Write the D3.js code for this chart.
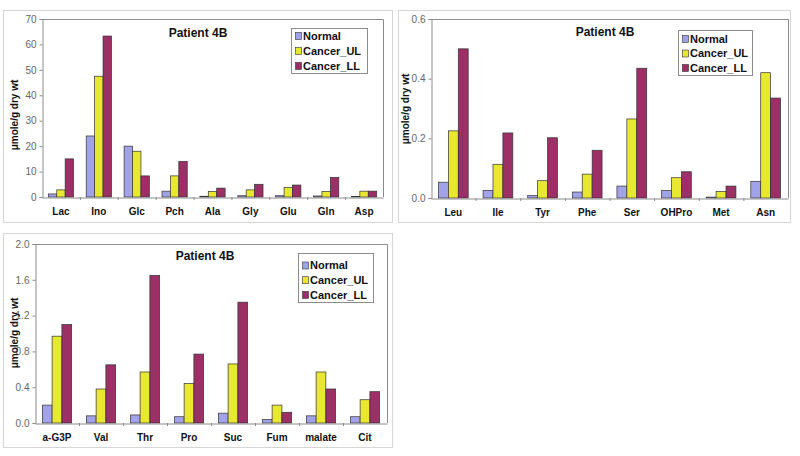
<!DOCTYPE html>
<html><head><meta charset="utf-8">
<script src="https://cdn.jsdelivr.net/npm/d3@7"></script>
<style>
html,body{margin:0;padding:0;background:#fff;}
svg{display:block;font-family:"Liberation Sans",Arial,sans-serif;}
</style></head>
<body>
<svg id="c" width="800" height="456"></svg>
<script>
// ---- data ----
const seriesNames = ["Normal", "Cancer_UL", "Cancer_LL"];
const seriesColors = ["#a2a2e8", "#e8e832", "#9b2f66"];
const title = "Patient 4B";
const yTitle = "\u03bcmole/g dry wt";

const cats1 = ["Lac","Ino","Glc","Pch","Ala","Gly","Glu","Gln","Asp"];
const normal1 = [1.2, 24, 20, 2.3, 0.3, 0.5, 0.5, 0.4, 0.2];
const ul1 = [2.8, 47.5, 18, 8.3, 2.2, 2.8, 3.8, 2.2, 2.3];
const ll1 = [15, 63.3, 8.3, 14, 3.5, 5, 4.7, 7.7, 2.3];
const ticks1 = [0,10,20,30,40,50,60,70];

const cats2 = ["Leu","Ile","Tyr","Phe","Ser","OHPro","Met","Asn"];
const normal2 = [0.053, 0.025, 0.008, 0.02, 0.04, 0.025, 0.003, 0.056];
const ul2 = [0.225, 0.113, 0.058, 0.08, 0.265, 0.068, 0.022, 0.42];
const ll2 = [0.5, 0.218, 0.202, 0.16, 0.435, 0.088, 0.04, 0.335];
const ticks2 = [0, 0.2, 0.4, 0.6];

const cats3 = ["a-G3P","Val","Thr","Pro","Suc","Fum","malate","Cit"];
const normal3 = [0.2, 0.08, 0.09, 0.07, 0.11, 0.04, 0.08, 0.07];
const ul3 = [0.97, 0.38, 0.57, 0.44, 0.66, 0.2, 0.57, 0.26];
const ll3 = [1.1, 0.65, 1.65, 0.77, 1.35, 0.12, 0.38, 0.35];
const ticks3 = [0, 0.4, 0.8, 1.2, 1.6, 2.0];

// ---- layout ----
const svg = d3.select("#c");

function drawPanel(cfg) {
  const {cats, series, ticks, fmt, frame, plot, titlePos, legend, yTitlePos} = cfg;
  const g = svg.append("g");
  g.append("rect").attr("x", frame.x + 0.5).attr("y", frame.y + 0.5)
    .attr("width", frame.w).attr("height", frame.h)
    .attr("fill", "#fff").attr("stroke", "#d6d6d6").attr("stroke-width", 1);

  const x = d3.scaleBand().domain(cats).range([plot.l, plot.r]).paddingInner(0).paddingOuter(0);
  const y = d3.scaleLinear().domain([ticks[0], ticks[ticks.length-1]]).range([plot.b, plot.t]);
  const bw = x.bandwidth() / 4.5;

  // plot border (top & right)
  g.append("path").attr("d", `M${plot.l},${plot.t + 0.5}H${plot.r + 0.5}V${plot.b}`)
    .attr("fill", "none").attr("stroke", "#8c8c8c").attr("stroke-width", 1);

  // bars
  series.forEach((vals, si) => {
    g.append("g").selectAll("rect").data(cats).join("rect")
      .attr("x", c => x(c) + 0.75 * bw + si * bw)
      .attr("y", (c, i) => y(vals[i]))
      .attr("width", bw)
      .attr("height", (c, i) => y(0) - y(vals[i]))
      .attr("fill", seriesColors[si])
      .attr("stroke", "#333").attr("stroke-width", 0.7);
  });

  // y axis
  const ya = d3.axisLeft(y).tickValues(ticks).tickFormat(fmt).tickSize(3).tickPadding(3);
  const yg = g.append("g").attr("transform", `translate(${plot.l + 0.5},0)`).call(ya);
  yg.select(".domain").attr("stroke", "#8c8c8c");
  yg.selectAll(".tick line").attr("stroke", "#8c8c8c");
  yg.selectAll(".tick text").attr("fill", "#666").attr("font-size", 10)
    .attr("font-family", "Liberation Sans, Arial, sans-serif");

  // x axis
  const xa = d3.axisBottom(x).tickSize(0).tickPadding(10);
  const xg = g.append("g").attr("transform", `translate(0,${plot.b + 0.5})`).call(xa);
  xg.select(".domain").attr("stroke", "#8c8c8c");
  xg.selectAll(".tick text").attr("fill", "#111").attr("font-size", 10).attr("font-weight", "bold")
    .attr("font-family", "Liberation Sans, Arial, sans-serif");
  // category separator ticks
  g.append("g").selectAll("line").data(cats.slice(1)).join("line")
    .attr("x1", c => x(c) + 0.5).attr("x2", c => x(c) + 0.5)
    .attr("y1", plot.b).attr("y2", plot.b + 3)
    .attr("stroke", "#8c8c8c");

  // title
  g.append("text").attr("x", titlePos.x).attr("y", titlePos.y).attr("text-anchor", "middle")
    .attr("font-size", 12).attr("font-weight", "bold").attr("fill", "#111").text(title);

  // y title
  g.append("text").attr("transform", `translate(${yTitlePos.x},${yTitlePos.y}) rotate(-90)`)
    .attr("text-anchor", "middle").attr("dy", "0.35em")
    .attr("font-size", 10).attr("font-weight", "bold").attr("fill", "#111").text(yTitle);

  // legend
  const lg = g.append("g").attr("transform", `translate(${legend.x},${legend.y})`);
  lg.append("rect").attr("x", 0.5).attr("y", 0.5).attr("width", legend.w).attr("height", legend.h)
    .attr("fill", "#fff").attr("stroke", "#8c8c8c");
  seriesNames.forEach((n, i) => {
    const cy = legend.first + i * legend.step;
    lg.append("rect").attr("x", 4.5).attr("y", cy - 3.5).attr("width", 6).attr("height", 7)
      .attr("fill", seriesColors[i]).attr("stroke", "#333").attr("stroke-width", 0.6);
    lg.append("text").attr("x", 12).attr("y", cy).attr("dy", "0.35em")
      .attr("font-size", 11).attr("font-weight", "bold").attr("fill", "#111").text(n);
  });
}

drawPanel({
  cats: cats1, series: [normal1, ul1, ll1], ticks: ticks1, fmt: d3.format("d"),
  frame: {x: 3, y: 10, w: 389, h: 212},
  plot: {l: 42, r: 383, t: 19, b: 197},
  titlePos: {x: 198, y: 37},
  legend: {x: 291, y: 28, w: 76, h: 45, first: 8, step: 15},
  yTitlePos: {x: 14, y: 115}
});

drawPanel({
  cats: cats2, series: [normal2, ul2, ll2], ticks: ticks2, fmt: d3.format(".1f"),
  frame: {x: 398, y: 10, w: 392, h: 212},
  plot: {l: 431, r: 788, t: 19, b: 198},
  titlePos: {x: 605, y: 36},
  legend: {x: 678, y: 30, w: 74, h: 45, first: 9, step: 14.5},
  yTitlePos: {x: 405, y: 109}
});

drawPanel({
  cats: cats3, series: [normal3, ul3, ll3], ticks: ticks3, fmt: d3.format(".1f"),
  frame: {x: 3, y: 233, w: 389, h: 214},
  plot: {l: 35, r: 387, t: 244, b: 423},
  titlePos: {x: 205, y: 260},
  legend: {x: 298, y: 253, w: 75, h: 49, first: 12.5, step: 14.7},
  yTitlePos: {x: 14, y: 333}
});
</script>
</body></html>
